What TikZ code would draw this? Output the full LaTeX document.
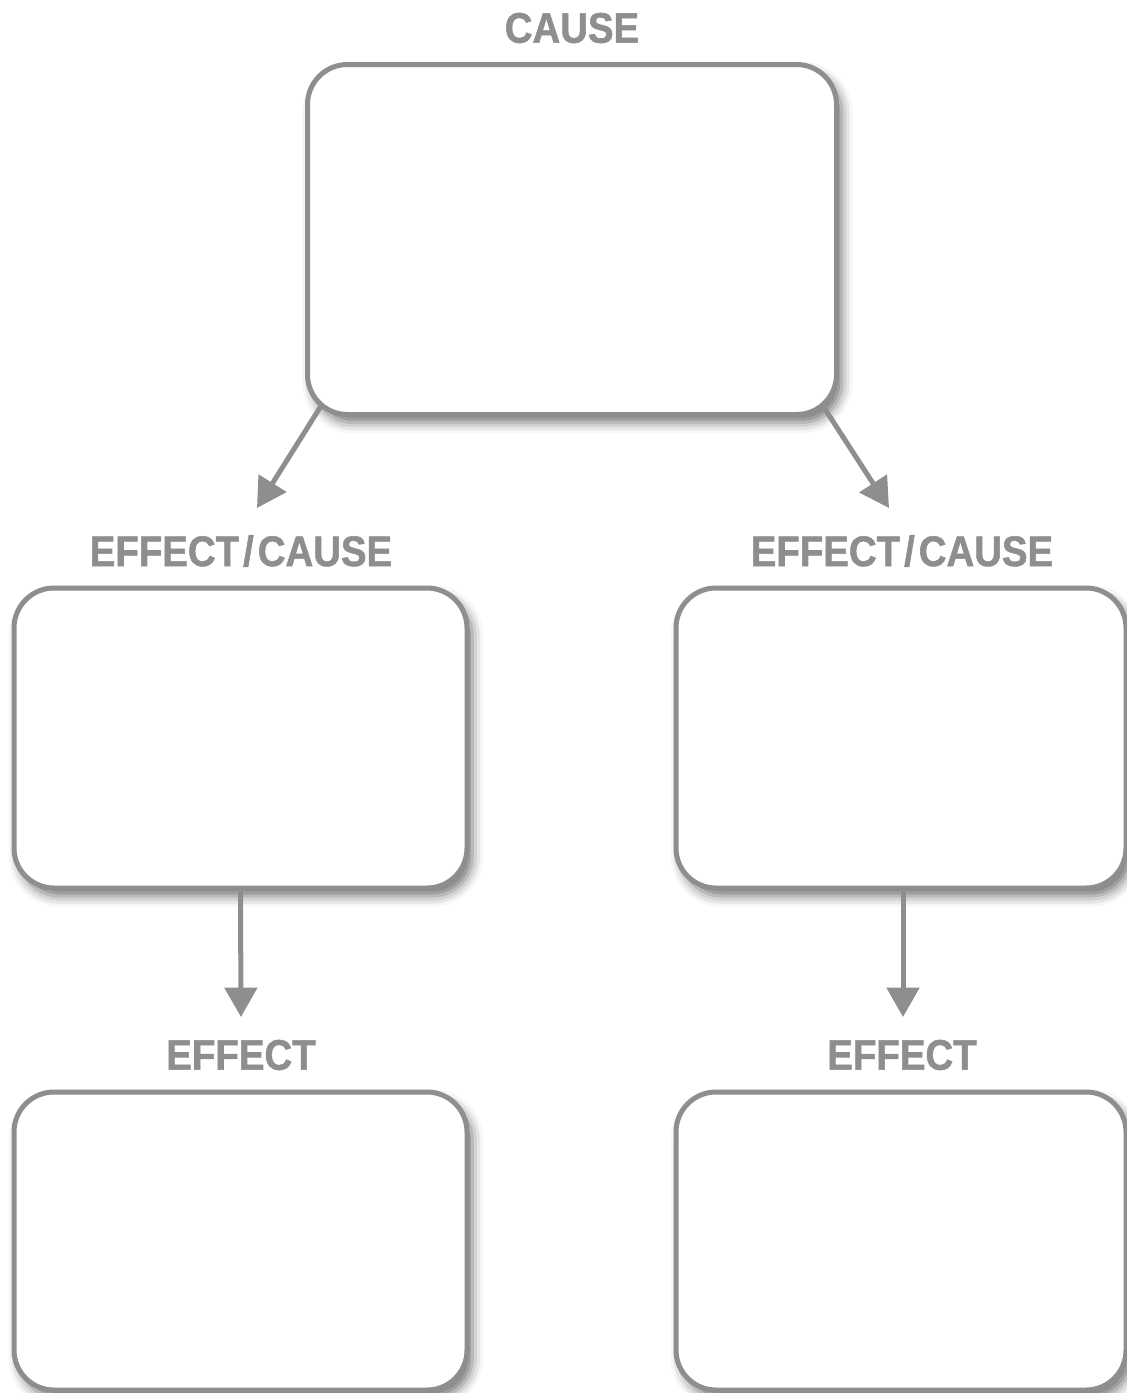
\documentclass[tikz,border=0pt]{standalone}
\usepackage{fontspec}
\setmainfont{Liberation Sans}[FakeStretch=0.9,BoldFeatures={FakeBold=1.3}]
\usetikzlibrary{arrows.meta,shadows.blur}
\definecolor{linegray}{HTML}{8E8E8E}
\begin{document}
\begin{tikzpicture}[x=0.75pt,y=-0.75pt,
  box/.style={draw=linegray,line width=3.75pt,fill=white,rounded corners=30pt,
    inner sep=0pt,
    blur shadow={shadow xshift=4pt,shadow yshift=-6pt,shadow blur radius=8pt,shadow opacity=55}},
  lbl/.style={text=linegray,font=\bfseries\fontsize{32pt}{36pt}\selectfont,inner sep=0pt},
  arr/.style={draw=linegray,line width=3.75pt,-{Triangle[width=24pt,length=22pt]}}]
\useasboundingbox (0,0) rectangle (1127,1393);
% boxes
\node[box,minimum width=529*0.75pt,minimum height=350*0.75pt] (top) at (572,239.5) {};
\node[box,minimum width=453*0.75pt,minimum height=300*0.75pt] (ml) at (240.5,738) {};
\node[box,minimum width=450*0.75pt,minimum height=300*0.75pt] (mr) at (901,738) {};
\node[box,minimum width=453*0.75pt,minimum height=298*0.75pt] (bl) at (240.5,1241) {};
\node[box,minimum width=450*0.75pt,minimum height=298*0.75pt] (br) at (901,1241) {};
% labels
\node[lbl] (tcause) at (572,28) {CAUSE};
\node[lbl] (lec) at (241,551) {EFFECT\kern3pt/\kern3pt CAUSE};
\node[lbl] (rec) at (902,551) {EFFECT\kern3pt/\kern3pt CAUSE};
\node[lbl] (le) at (241,1055) {EFFECT};
\node[lbl] (re) at (902,1055) {EFFECT};
% arrows
\coordinate (s1) at (321,406);
\coordinate (t1) at (257,508);
\coordinate (s2) at (823,406);
\coordinate (t2) at (889,508);
\coordinate (t3) at (241,1017);
\coordinate (t4) at (903,1017);
\draw[arr] (s1) -- (t1);
\draw[arr] (s2) -- (t2);
\draw[arr] (ml.south) -- (t3);
\draw[arr] (mr.south -| t4) -- (t4);
\end{tikzpicture}
\end{document}
